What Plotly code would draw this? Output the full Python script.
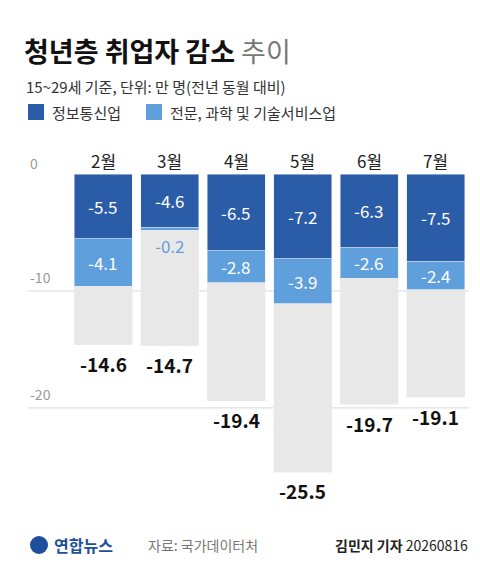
import plotly.graph_objects as go

months = ["2월", "3월", "4월", "5월", "6월", "7월"]
info_comm = [-5.5, -4.6, -6.5, -7.2, -6.3, -7.5]
prof_sci = [-4.1, -0.2, -2.8, -3.9, -2.6, -2.4]
total = [-14.6, -14.7, -19.4, -25.5, -19.7, -19.1]
rest = [round(t - a - b, 1) for t, a, b in zip(total, info_comm, prof_sci)]

DARK = "#2b5ca8"
LIGHT = "#5f9fdc"
GRAY = "#e8e8e8"
FONT = "Noto Sans CJK KR"

L, R, T, B = 62, 19, 166, 51
W, H = 480, 562
PW, PH = W - L - R, H - T - B


def px(x):  # pixel -> paper x
    return (x - L) / PW


def py(y):  # pixel -> paper y
    return (H - B - y) / PH


fig = go.Figure()
fig.add_bar(x=months, y=info_comm, marker_color=DARK, width=0.87)
fig.add_bar(x=months, y=prof_sci, marker_color=LIGHT, width=0.87)
fig.add_bar(x=months, y=rest, marker_color=GRAY, width=0.87)

ann = []
for m, a, b, t in zip(months, info_comm, prof_sci, total):
    ann.append(dict(x=m, y=a / 2, text=f"{a}", showarrow=False,
                    font=dict(color="white", size=17)))
    if abs(b) < 1:
        ann.append(dict(x=m, y=a + b - 1.3, text=f"{b}", showarrow=False,
                        font=dict(color=LIGHT, size=17)))
    else:
        ann.append(dict(x=m, y=a + b / 2, text=f"{b}", showarrow=False,
                        font=dict(color="white", size=17)))
    ann.append(dict(x=m, y=t - 1.6, text=f"<b>{t}</b>", showarrow=False,
                    font=dict(color="#111", size=19)))
    ann.append(dict(x=m, yref="paper", y=py(152), yanchor="middle", text=m,
                    showarrow=False, font=dict(color="#222", size=17)))

ann.append(dict(xref="paper", yref="paper", x=px(20), y=py(155), yanchor="middle",
                text="0", showarrow=False, xanchor="left", font=dict(color="#999", size=14)))
for v in [-10, -20]:
    ann.append(dict(xref="paper", x=px(20), y=v + 1.2, text=str(v), showarrow=False,
                    xanchor="left", font=dict(color="#999", size=14)))

shapes = [dict(type="line", xref="paper", x0=px(20), x1=1, y0=v, y1=v, layer="below",
               line=dict(color="#d8d8d8", width=1)) for v in [-10, -20]]


def head(x, y, text, size, color, anchor="left"):
    return dict(xref="paper", yref="paper", x=px(x), y=py(y), xanchor=anchor,
                yanchor="middle", text=text, showarrow=False,
                font=dict(size=size, color=color))


ann += [
    head(14, 42, "<b>청년층 취업자 감소</b> <span style='color:#777'>추이</span>", 27, "#111"),
    head(16, 78, "15~29세 기준, 단위: 만 명(전년 동월 대비)", 15, "#333"),
    head(42, 104, "정보통신업", 15, "#333"),
    head(160, 104, "전문, 과학 및 기술서비스업", 15, "#333"),
    head(44, 537, "<b>연합뉴스</b>", 16, "#1d4f9c"),
    head(138, 537, "자료: 국가데이터처", 14, "#777"),
    head(462, 537, "<b>김민지 기자</b> 20260816", 14, "#222", "right"),
]
shapes += [
    dict(type="rect", xref="paper", yref="paper", x0=px(20), x1=px(36), y0=py(112), y1=py(96),
         fillcolor=DARK, line_width=0),
    dict(type="rect", xref="paper", yref="paper", x0=px(138), x1=px(154), y0=py(112), y1=py(96),
         fillcolor=LIGHT, line_width=0),
    dict(type="circle", xref="paper", yref="paper", x0=px(22), x1=px(40), y0=py(546), y1=py(528),
         fillcolor="#1d4f9c", line_width=0),
]

fig.update_layout(
    width=W, height=H, barmode="stack", showlegend=False,
    paper_bgcolor="white", plot_bgcolor="white",
    margin=dict(l=L, r=R, t=T, b=B),
    font=dict(family=FONT),
    bargap=0.13,
    xaxis=dict(visible=False),
    yaxis=dict(visible=False, range=[-29.5, 0]),
    annotations=ann, shapes=shapes,
)
fig.write_html("out.html")
